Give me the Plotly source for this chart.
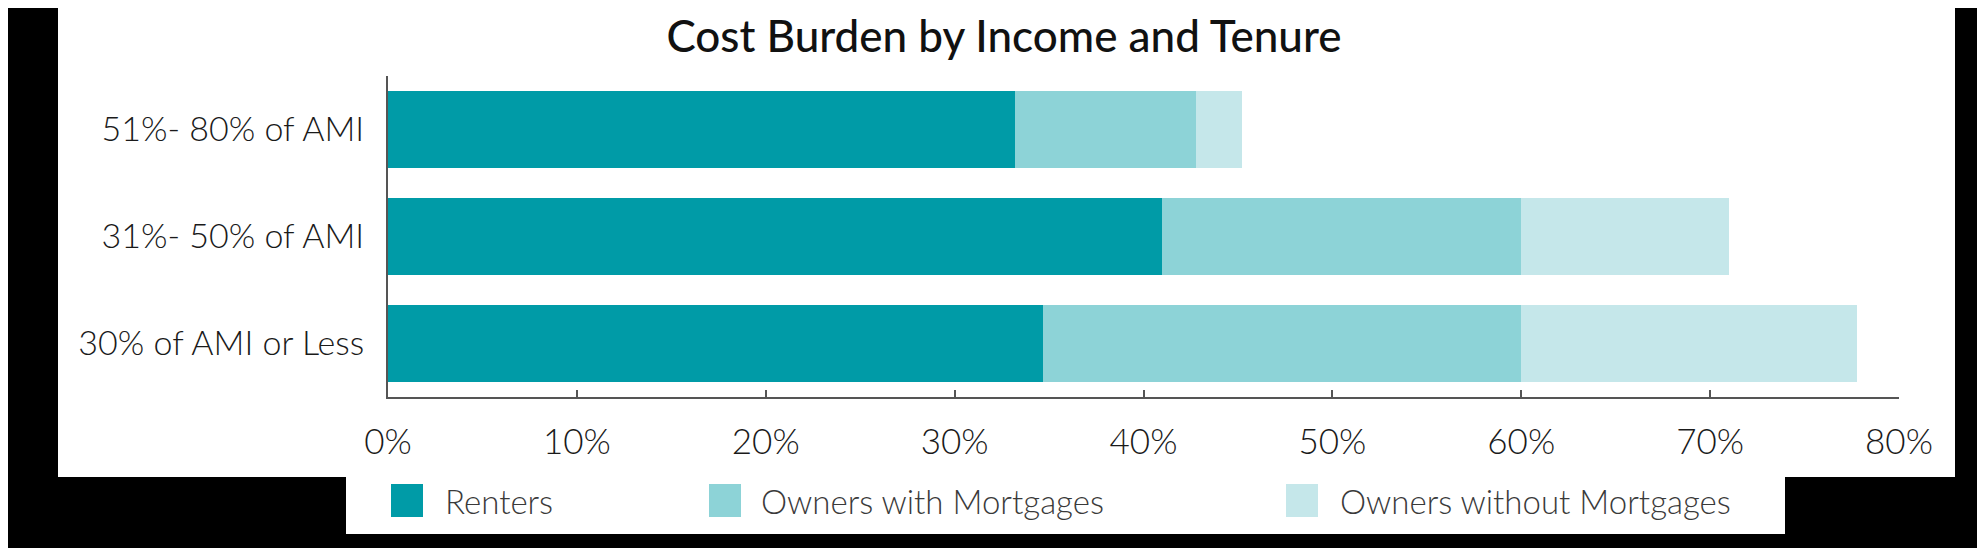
import plotly.graph_objects as go

# ---- data ----
categories = ["30% of AMI or Less", "31%- 50% of AMI", "51%- 80% of AMI"]
renters = [34.7, 41.0, 33.2]
owners_with_mortgages = [25.3, 19.0, 9.6]
owners_without_mortgages = [17.8, 11.0, 2.4]
series_names = ["Renters", "Owners with Mortgages", "Owners without Mortgages"]
tick_values = [0, 10, 20, 30, 40, 50, 60, 70, 80]
tick_labels = ["0%", "10%", "20%", "30%", "40%", "50%", "60%", "70%", "80%"]

colors = ["#009ba7", "#8dd3d7", "#c5e7ea"]

W, H = 1985, 548
OFF = 8  # page body margin
L, T = 388 - OFF, 76 - OFF
PW, PH = 1511, 321
R, B = W - L - PW, H - T - PH


def px2x(px):
    # screen x pixel -> paper coordinate
    return (px - OFF - L) / PW


def px2y(py):
    # screen y pixel -> paper coordinate
    return (T + PH - (py - OFF)) / PH


fig = go.Figure()
for name, vals, col in zip(series_names,
                           [renters, owners_with_mortgages, owners_without_mortgages],
                           colors):
    fig.add_trace(go.Bar(
        y=categories, x=vals, name=name, orientation="h",
        marker=dict(color=col, line=dict(width=0)),
        showlegend=False,
    ))

shapes = [
    # white page areas on black background
    dict(type="rect", xref="paper", yref="paper", layer="below",
         x0=px2x(58), x1=px2x(1955), y0=px2y(477), y1=px2y(-20),
         fillcolor="white", line=dict(width=0)),
    dict(type="rect", xref="paper", yref="paper", layer="below",
         x0=px2x(346), x1=px2x(1785), y0=px2y(534), y1=px2y(470),
         fillcolor="white", line=dict(width=0)),
]
annotations = []

# custom legend (large square swatches)
legend_items = [(391, 443), (709, 759), (1286, 1338)]
for (sx, tx), name, col in zip(legend_items, series_names, colors):
    shapes.append(dict(type="rect", xref="paper", yref="paper",
                       x0=px2x(sx), x1=px2x(sx + 32), y0=px2y(517), y1=px2y(484),
                       fillcolor=col, line=dict(width=0)))
    annotations.append(dict(xref="paper", yref="paper", x=px2x(tx), y=px2y(501),
                            xanchor="left", yanchor="middle", showarrow=False,
                            text=name,
                            font=dict(family="Lato", size=33, color="#3a3a3a", weight=300)))

fig.update_layout(
    width=W, height=H,
    margin=dict(l=L, r=R, t=T, b=B, pad=0),
    paper_bgcolor="black",
    plot_bgcolor="white",
    barmode="stack",
    bargap=0.28,
    title=dict(text="Cost Burden by Income and Tenure",
               x=(1004 - OFF) / W, xref="container", xanchor="center",
               y=1 - (37 - OFF) / H, yref="container", yanchor="middle",
               font=dict(family="Lato", size=44, color="#111111", weight=500)),
    shapes=shapes,
    annotations=annotations,
    showlegend=False,
    xaxis=dict(range=[0, 80], tickmode="array", tickvals=tick_values, ticktext=tick_labels,
               showgrid=False, zeroline=False,
               showline=True, linecolor="#555555", linewidth=2,
               ticks="inside", ticklen=7, tickwidth=2, tickcolor="#555555",
               ticklabelstandoff=13,
               tickfont=dict(family="Lato", size=35, color="#1a1a1a", weight=300)),
    yaxis=dict(categoryorder="array", categoryarray=categories,
               showgrid=False, zeroline=False,
               showline=True, linecolor="#555555", linewidth=2,
               ticks="", ticklabelstandoff=15,
               tickfont=dict(family="Lato", size=34, color="#1a1a1a", weight=300)),
)

fig.write_html("out.html")
